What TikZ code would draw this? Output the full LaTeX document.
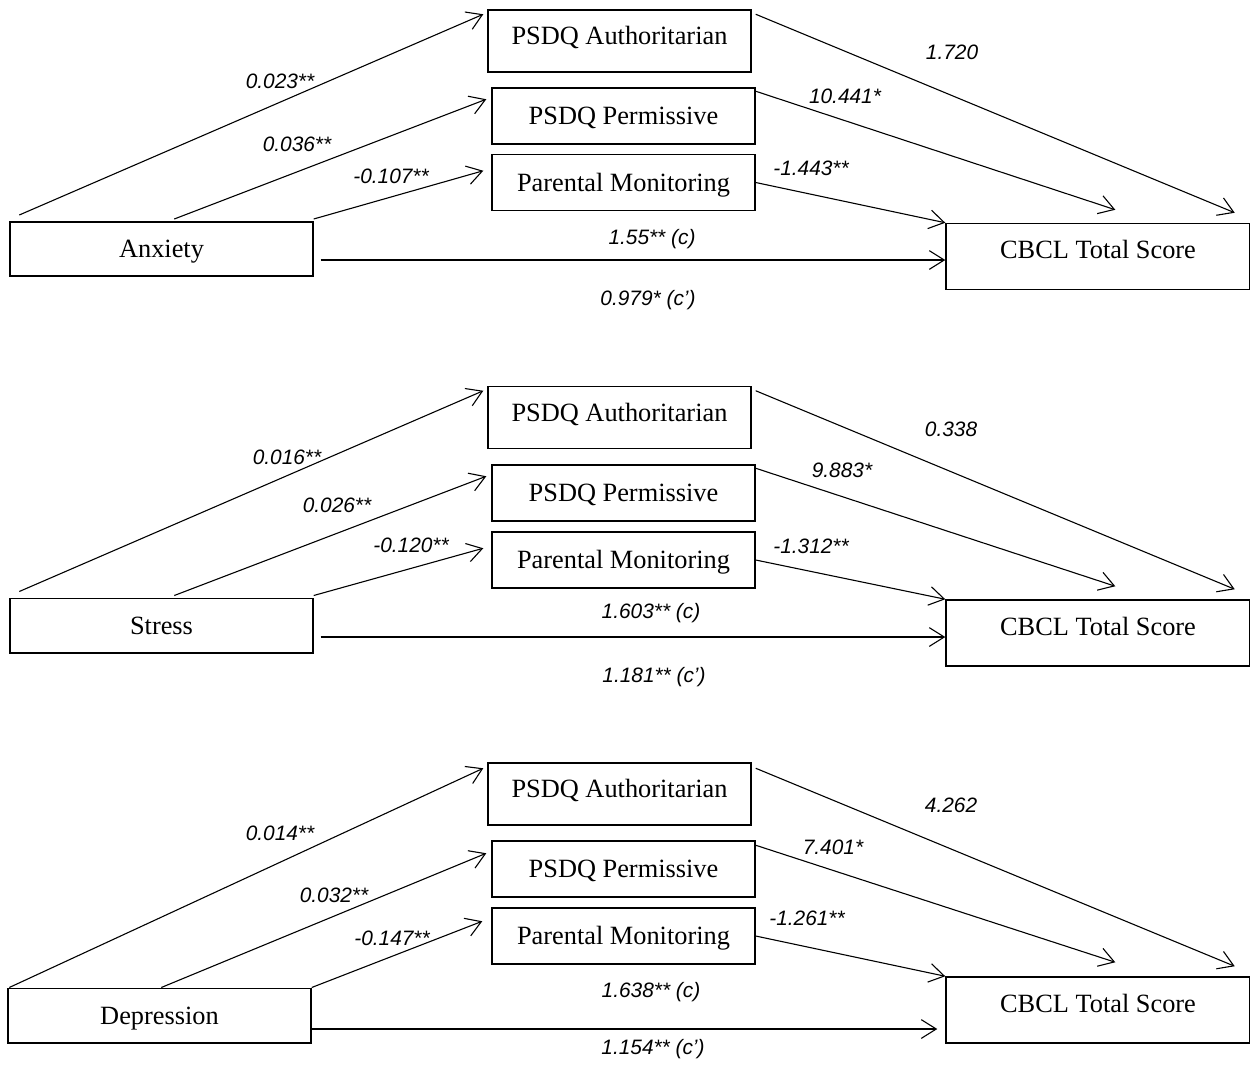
\documentclass[tikz,border=0pt]{standalone}
\usepackage{fontspec}
\setmainfont{Liberation Serif}
\setsansfont{Liberation Sans}
\usetikzlibrary{arrows.meta,calc}

\begin{document}
\begin{tikzpicture}[x=0.016cm,y=-0.016cm,
  box/.style={rectangle,draw,line width=0.7pt,inner sep=0pt,text height=9pt,text depth=1.1pt,font=\fontsize{12}{14}\selectfont},
  pred/.style={box,minimum width=4.848cm,minimum height=0.872cm},
  med/.style={box,minimum width=4.208cm,minimum height=0.896cm},
  medtall/.style={med,minimum height=0.992cm,text depth=5.7pt},
  outc/.style={box,minimum width=4.864cm,minimum height=1.056cm,text depth=7.1pt},
  arr/.style={-{Straight Barb[length=0.24cm,width=0.3cm]},line width=0.5pt},
  coef/.style={font=\sffamily\itshape\fontsize{9.5}{11}\selectfont}]
\useasboundingbox (0,0) rectangle (1250,1066);

% anxiety
\begin{scope}
\node (ANX) at (161.5,249) [pred] {Anxiety};
\node (AUT1) at (619.5,41) [medtall] {PSDQ Authoritarian};
\node (PER1) at (623.5,116) [med] {PSDQ Permissive};
\node (MON1) at (623.5,182.5) [med] {Parental Monitoring};
\node (CBCL1) at (1098,256.5) [outc] {CBCL Total Score};
\draw[arr] ($(ANX.north west)+(10,-6)$) -- ($(AUT1.north west)+(-4,5)$);
\draw[arr] ($(ANX.north west)+(165,-2)$) -- ($(PER1.north west)+(-5,12)$);
\draw[arr] ($(ANX.north east)+(0,-2)$) -- ($(MON1.north west)+(-8,17)$);
\draw[arr] ($(ANX.east)+(7,11)$) -- ($(CBCL1.west)+(0,3.5)$);
\draw[arr] ($(AUT1.north east)+(4,5)$) -- ($(CBCL1.north east)+(-16,-10)$);
\draw[arr] ($(PER1.north east)+(0,4)$) -- ($(CBCL1.north west)+(170,-13)$);
\draw[arr] (MON1.east) -- (CBCL1.north west);
\node (a1) at (280,81) [coef] {0.023**};
\node (a2) at (297,144) [coef] {0.036**};
\node (a3) at (391,176) [coef] {-0.107**};
\node (b1) at (952,52) [coef] {1.720};
\node (b2) at (845,96) [coef] {10.441*};
\node (b3) at (811,168) [coef] {-1.443**};
\node (c) at (652,239) [coef] {1.55** (c)};
\node (cp) at (648,300) [coef] {0.979* (c’)};
\end{scope}

% stress
\begin{scope}
\node (STR) at (161.5,625.5) [pred] {Stress};
\node (AUT2) at (619.5,417.5) [medtall] {PSDQ Authoritarian};
\node (PER2) at (623.5,493) [med] {PSDQ Permissive};
\node (MON2) at (623.5,560) [med] {Parental Monitoring};
\node (CBCL2) at (1098,633) [outc] {CBCL Total Score};
\draw[arr] ($(STR.north west)+(10,-6)$) -- ($(AUT2.north west)+(-4,5)$);
\draw[arr] ($(STR.north west)+(165,-2)$) -- ($(PER2.north west)+(-5,12)$);
\draw[arr] ($(STR.north east)+(0,-2)$) -- ($(MON2.north west)+(-8,17)$);
\draw[arr] ($(STR.east)+(7,11.5)$) -- ($(CBCL2.west)+(0,4)$);
\draw[arr] ($(AUT2.north east)+(4,5)$) -- ($(CBCL2.north east)+(-16,-10)$);
\draw[arr] ($(PER2.north east)+(0,4)$) -- ($(CBCL2.north west)+(170,-13)$);
\draw[arr] (MON2.east) -- (CBCL2.north west);
\node (a4) at (287,457) [coef] {0.016**};
\node (a5) at (337,505) [coef] {0.026**};
\node (a6) at (411,545) [coef] {-0.120**};
\node (b4) at (951,429) [coef] {0.338};
\node (b5) at (842,470) [coef] {9.883*};
\node (b6) at (811,546) [coef] {-1.312**};
\node (c2) at (651,613) [coef] {1.603** (c)};
\node (cp2) at (654,677) [coef] {1.181** (c’)};
\end{scope}

% depression
\begin{scope}
\node (DEP) at (159.5,1015.5) [pred] {Depression};
\node (AUT3) at (619.5,794) [medtall] {PSDQ Authoritarian};
\node (PER3) at (623.5,869) [med] {PSDQ Permissive};
\node (MON3) at (623.5,936) [med] {Parental Monitoring};
\node (CBCL3) at (1098,1010) [outc] {CBCL Total Score};
\draw[arr] ($(DEP.north west)+(2,0)$) -- ($(AUT3.north west)+(-4,6)$);
\draw[arr] ($(DEP.north west)+(154,0)$) -- ($(PER3.north west)+(-5,13)$);
\draw[arr] (DEP.north east) -- ($(MON3.north west)+(-9,14)$);
\draw[arr] ($(DEP.east)+(0,13.5)$) -- ($(CBCL3.west)+(-8,19)$);
\draw[arr] ($(AUT3.north east)+(4,6)$) -- ($(CBCL3.north east)+(-16,-10)$);
\draw[arr] ($(PER3.north east)+(0,5)$) -- ($(CBCL3.north west)+(170,-14)$);
\draw[arr] (MON3.east) -- (CBCL3.north west);
\node (a7) at (280,833) [coef] {0.014**};
\node (a8) at (334,895) [coef] {0.032**};
\node (a9) at (392,938) [coef] {-0.147**};
\node (b7) at (951,805) [coef] {4.262};
\node (b8) at (833,847) [coef] {7.401*};
\node (b9) at (807,918) [coef] {-1.261**};
\node (c3) at (651,992) [coef] {1.638** (c)};
\node (cp3) at (653,1049) [coef] {1.154** (c’)};
\end{scope}
\end{tikzpicture}
\end{document}
